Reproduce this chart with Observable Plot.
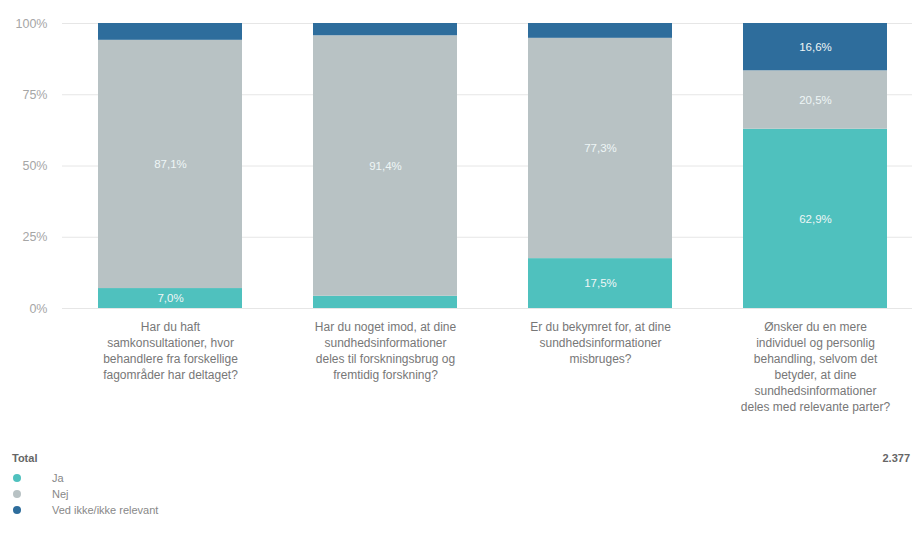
<!DOCTYPE html>
<html>
<head>
<meta charset="utf-8">
<script src="https://cdn.jsdelivr.net/npm/d3@7"></script>
<script src="https://cdn.jsdelivr.net/npm/@observablehq/plot@0.6"></script>
<style>
  html, body { margin: 0; padding: 0; background: #fff; overflow: hidden; }
  #wrap { width: 912px; height: 539px; overflow: hidden; position: relative; font-family: "Liberation Sans", Arial, sans-serif; }
  #chart svg { max-width: none !important; }
  .total { position: absolute; left: 12px; top: 452px; font-size: 11px; font-weight: bold; color: #666; }
  .n { position: absolute; right: 2px; top: 452px; font-size: 11px; font-weight: bold; color: #666; white-space: nowrap; }
  .item { position: absolute; left: 12px; font-size: 11px; color: #888; display: flex; align-items: center; }
  .dot { width: 8px; height: 8px; border-radius: 50%; margin-left: 1px; margin-right: 31px; }
</style>
</head>
<body>
<div id="wrap"><div id="chart"></div></div>
<script>
const questions = [
  "Har du haft\nsamkonsultationer, hvor\nbehandlere fra forskellige\nfagområder har deltaget?",
  "Har du noget imod, at dine\nsundhedsinformationer\ndeles til forskningsbrug og\nfremtidig forskning?",
  "Er du bekymret for, at dine\nsundhedsinformationer\nmisbruges?",
  "Ønsker du en mere\nindividuel og personlig\nbehandling, selvom det\nbetyder, at dine\nsundhedsinformationer\ndeles med relevante parter?"
];
const seriesNames = ["Ja", "Nej", "Ved ikke/ikke relevant"];
const seriesColors = ["#4fc1be", "#b8c2c4", "#2e6d9c"];
const ja = [7.0, 4.3, 17.5, 62.9];
const nej = [87.1, 91.4, 77.3, 20.5];
const vedIkke = [5.9, 4.3, 5.2, 16.6];
const yTicks = [0, 25, 50, 75, 100];
const totalLabel = "Total";
const totalN = "2.377";

const values = [ja, nej, vedIkke];
const data = [];
questions.forEach((q, i) => {
  seriesNames.forEach((s, j) => data.push({question: q, series: s, value: values[j][i]}));
});
const fmt = v => v.toFixed(1).replace(".", ",") + "%";

const plot = Plot.plot({
  width: 924,
  height: 425,
  marginLeft: 62,
  marginRight: 0,
  marginTop: 23,
  marginBottom: 117,
  style: {fontFamily: "Liberation Sans, Arial, sans-serif", background: "#fff", maxWidth: "none"},
  x: {domain: questions, paddingInner: 0.33, paddingOuter: 0.165, label: null},
  y: {domain: [0, 100], label: null},
  color: {domain: seriesNames, range: seriesColors},
  marks: [
    Plot.gridY(yTicks, {stroke: "#e6e6e6", strokeOpacity: 1}),
    Plot.axisY(yTicks, {tickSize: 0, tickPadding: 15, tickFormat: d => d + "%", fill: "#a6a6a6", fontSize: 12.5, label: null}),
    Plot.axisX({tickSize: 0, tickPadding: 11, fontSize: 12, lineHeight: 1.33, fill: "#777", label: null}),
    Plot.barY(data, Plot.stackY({x: "question", y: "value", fill: "series", order: seriesNames})),
    Plot.text(data, Plot.stackY({x: "question", y: "value", z: "series", order: seriesNames,
      text: d => d.value >= 6.5 ? fmt(d.value) : "", fill: "#eef6f6", fontSize: 11.5}))
  ]
});
document.getElementById("chart").appendChild(plot);

const wrap = document.getElementById("wrap");
const t = document.createElement("div"); t.className = "total"; t.textContent = totalLabel; wrap.appendChild(t);
const n = document.createElement("div"); n.className = "n"; n.textContent = totalN; wrap.appendChild(n);
seriesNames.forEach((s, i) => {
  const it = document.createElement("div");
  it.className = "item";
  it.style.top = (472 + i * 16) + "px";
  const d = document.createElement("span"); d.className = "dot"; d.style.background = seriesColors[i];
  const l = document.createElement("span"); l.textContent = s;
  it.appendChild(d); it.appendChild(l);
  wrap.appendChild(it);
});
</script>
</body>
</html>
